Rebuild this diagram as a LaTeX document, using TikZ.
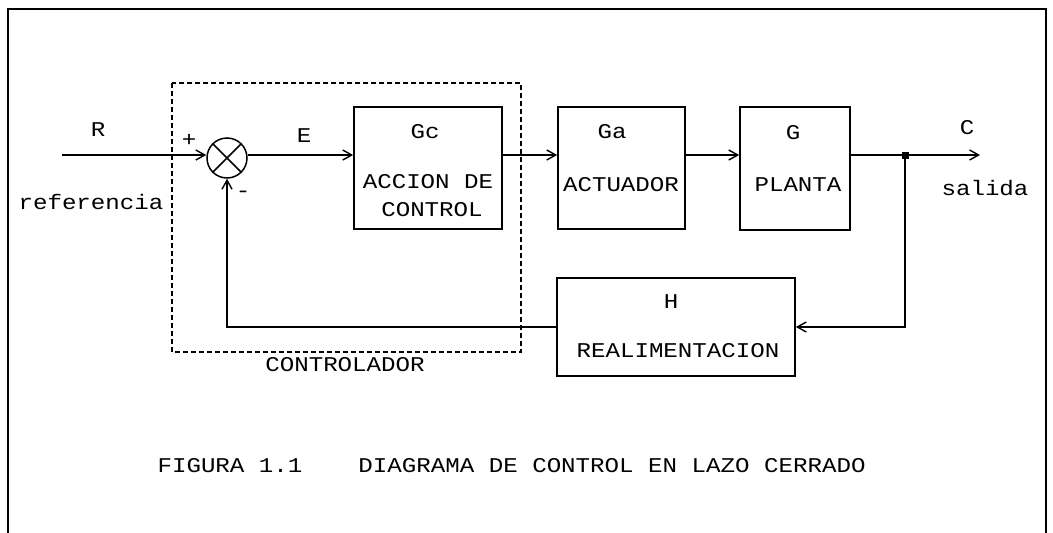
\documentclass[tikz,border=0pt]{standalone}
\usepackage{fontspec}
\newfontfamily\plotfont[FakeStretch=1.15]{Liberation Mono}
\usetikzlibrary{arrows.meta}
\begin{document}
\begin{tikzpicture}[x=1pt,y=-1pt,
  every node/.style={font=\plotfont\fontsize{21}{24}\selectfont, inner sep=0pt},
  block/.style={draw, line width=1.7pt, minimum width=#1},
  wire/.style={line width=1.5pt},
  sig/.style={wire, -{Straight Barb[length=9pt,width=10pt,line width=1.4pt]}},
  ctrlbox/.style={line width=1.5pt, dash pattern=on 5pt off 3pt},
  lbl/.style={anchor=center}]
\useasboundingbox (0,0) rectangle (1053,533);
% frame
\draw[line width=1.8pt] (8,533) -- (8,9) -- (1046,9) -- (1046,533);
% controller dashed box
\draw[ctrlbox] (172,83) rectangle (521,352);
% blocks
\node[block=148pt, minimum height=122pt] (gc) at (428,168) {};
\node[block=127pt, minimum height=122pt] (ga) at (621.5,168) {};
\node[block=110pt, minimum height=123pt] (g) at (795,168.5) {};
\node[block=238pt, minimum height=98pt] (h) at (676,327) {};
\node[draw, circle, line width=1.5pt, minimum size=40pt] (sum) at (227,158) {};
\draw[wire] (sum.45) -- (sum.225) (sum.135) -- (sum.-45);
% coordinates
\coordinate (rin) at (62,155);
\coordinate (br) at (905,155);
\coordinate (out) at (980,155);
\coordinate (fbr) at (905,327);
\coordinate (fbl) at (227,327);
% signals
\draw[sig] (rin) -- (sum.west |- rin);
\draw[sig] (sum.east |- rin) -- (rin -| gc.west);
\draw[sig] (rin -| gc.east) -- (rin -| ga.west);
\draw[sig] (rin -| ga.east) -- (rin -| g.west);
\draw[sig] (rin -| g.east) -- (out);
\draw[sig] (br) -- (fbr) -- (h.east);
\draw[sig] (h.west) -- (fbl) -- (sum.south);
\node[fill, minimum size=7pt, inner sep=0pt] (dot) at (br) {};
% labels
\node[lbl] (tR) at (98,130) {R};
\node[lbl] (tplus) at (189,140) {+};
\node[lbl] (tminus) at (243,194) {-};
\node[lbl] (tref) at (91,202) {referencia};
\node[lbl] (tE) at (304,136) {E};
\node[lbl] (tGc) at (425,132) {Gc};
\node[lbl] (tGc2) at (428,182) {ACCION DE};
\node[lbl] (tGc3) at (432,210) {CONTROL};
\node[lbl] (tGa) at (612,132) {Ga};
\node[lbl] (tGa2) at (621,185) {ACTUADOR};
\node[lbl] (tG) at (793,133) {G};
\node[lbl] (tG2) at (798,185) {PLANTA};
\node[lbl] (tC) at (967,128) {C};
\node[lbl] (tsal) at (985,188) {salida};
\node[lbl] (tH) at (671,302) {H};
\node[lbl] (tH2) at (678,351) {REALIMENTACION};
\node[lbl] (tctrl) at (345,365) {CONTROLADOR};
\node[lbl] (cap1) at (230,466) {FIGURA 1.1};
\node[lbl] (cap2) at (612,466) {DIAGRAMA DE CONTROL EN LAZO CERRADO};
\end{tikzpicture}
\end{document}
